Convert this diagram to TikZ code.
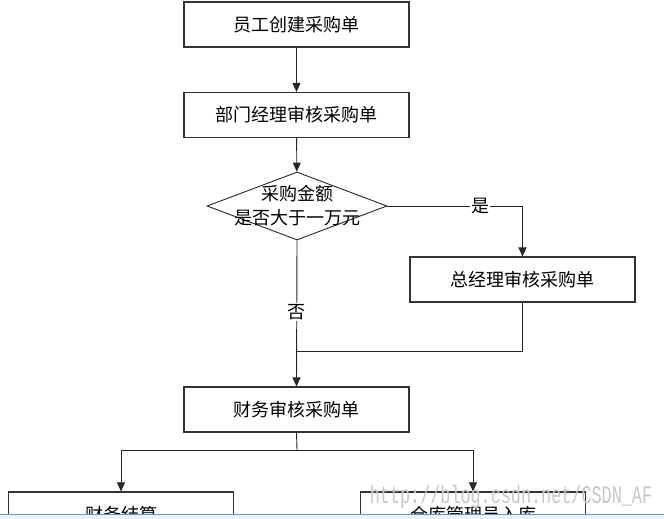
\documentclass[tikz,border=0pt]{standalone}
\usepackage{fontspec}
\newfontfamily\cjk{Noto Sans CJK SC}
\newfontfamily\wmfont{Liberation Mono}
\usetikzlibrary{shapes.geometric,arrows.meta}
\definecolor{stripline}{HTML}{6F93C4}
\definecolor{stripfill}{HTML}{EEF3FA}

\begin{document}
\begin{tikzpicture}[x=1pt,y=-1pt,
  stepbox/.style={draw=black!80,line width=1.1pt,minimum width=225pt,minimum height=45pt,inner sep=0pt,font=\cjk\fontsize{18}{20}\selectfont},
  decision/.style={diamond,draw=black!85,line width=0.9pt,minimum width=180pt,minimum height=68pt,inner sep=0pt},
  link/.style={draw=black!85,line width=0.9pt},
  arrow/.style={link,-{Triangle[width=8pt,length=9pt]}},
  tag/.style={fill=white,inner sep=1pt,font=\cjk\fontsize{18}{20}\selectfont}]
\useasboundingbox (0,0) rectangle (664,519);
\clip (0,0) rectangle (664,519);
% boxes
\node[stepbox] (create) at (296.5,24.5) {员工创建采购单};
\node[stepbox] (dept) at (296.5,115) {部门经理审核采购单};
\node[decision,label={[font=\cjk\fontsize{18}{24}\selectfont,align=center]center:采购金额\\是否大于一万元}] (check) at (297,206) {};
\node[stepbox] (gm) at (522.5,279.5) {总经理审核采购单};
\node[stepbox] (finance) at (296.5,409.5) {财务审核采购单};
\node[stepbox] (settle) at (121,514.5) {财务结算};
\node[stepbox] (stock) at (473,514.5) {仓库管理员入库};
\coordinate (join) at (297,351);
\coordinate (split) at (297,450);
% connectors
\draw[arrow] (create) -- (dept);
\draw[arrow] (dept) -- (check);
\draw[arrow] (check.east) -| node[tag,pos=0.344] (yes) {是} (gm.north);
\draw[link] (gm.south) |- (join);
\draw[arrow] (check.south) -- node[tag,pos=0.49] (no) {否} (finance.north);
\draw[link] (finance.south) -- (split);
\draw[arrow] (split) -| (settle.north);
\draw[arrow] (split) -| (stock.north);
% watermark and lower edge
\node[text=black!22,font=\wmfont\fontsize{16.8}{18}\selectfont,inner sep=0pt] (watermark) at (511,497) {\scalebox{1}[1.5]{http://blog.csdn.net/CSDN\_AF}};
\fill[stripfill] (0,514.5) rectangle (664,519);
\draw[stripline,line width=1.5pt] (0,514.5) -- (664,514.5);
\end{tikzpicture}
\end{document}
